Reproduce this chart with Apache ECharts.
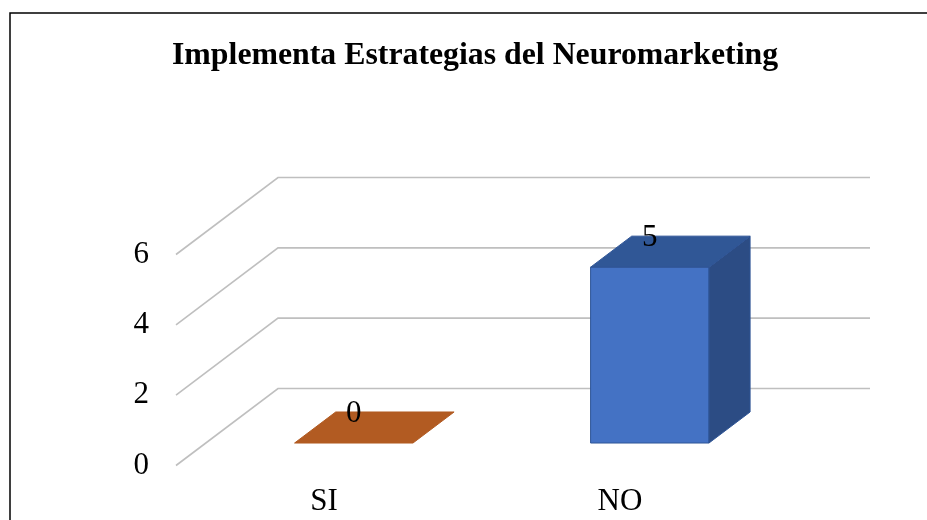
<!DOCTYPE html>
<html>
<head>
<meta charset="utf-8">
<script src="https://cdn.jsdelivr.net/npm/echarts@6/dist/echarts.min.js"></script>
<style>html,body{margin:0;padding:0;background:#fff;}#c{width:927px;height:520px;}</style>
</head>
<body>
<div id="c"></div>
<script>
const titleText = 'Implementa Estrategias del Neuromarketing';
const categories = ['SI', 'NO'];
const values = [0, 5];
const yTicks = [0, 2, 4, 6];

const FONT = '"Liberation Serif", "Times New Roman", serif';
const DX = 102, DY = -77;      // oblique depth of the floor/walls
const F1 = 0.292, F2 = 0.695;  // bar front and back depth fractions
const faceColors = [
  { front: '#ED7D31', top: '#B25B22', side: '#A4521D', stroke: '#B25B22' },
  { front: '#4472C4', top: '#305796', side: '#2C4C84', stroke: '#2F5597' }
];

const chart = echarts.init(document.getElementById('c'));
chart.setOption({
  backgroundColor: '#fff',
  animation: false,
  title: {
    text: titleText,
    left: 172, top: 40, padding: 0,
    textStyle: { fontFamily: FONT, fontWeight: 'bold', fontSize: 31.8, color: '#000' }
  },
  graphic: [{
    type: 'rect', shape: { x: 10, y: 13, width: 1000, height: 1000 },
    style: { fill: 'none', stroke: '#000', lineWidth: 1.5 }, silent: true
  }],
  grid: { left: 176, right: 159, top: 254.5, bottom: 54.5 },
  xAxis: {
    type: 'category', data: categories,
    axisLine: { show: false }, axisTick: { show: false },
    axisLabel: { fontFamily: FONT, fontSize: 31, color: '#000', margin: 21 }
  },
  yAxis: {
    type: 'value', min: 0, max: 6, interval: 2,
    axisLine: { show: false }, axisTick: { show: false }, splitLine: { show: false },
    axisLabel: { fontFamily: FONT, fontSize: 31, color: '#000', margin: 27 }
  },
  series: [
    {
      type: 'custom', z: 1, silent: true,
      data: yTicks.map(v => [0, v]),
      encode: { x: 0, y: 1 },
      renderItem: function (params, api) {
        const p = api.coord([0, api.value(1)]);
        const cs = params.coordSys;
        return {
          type: 'polyline',
          shape: { points: [[cs.x, p[1]], [cs.x + DX, p[1] + DY], [cs.x + cs.width + DX, p[1] + DY]] },
          style: { stroke: '#BFBFBF', lineWidth: 1.6, fill: null }
        };
      }
    },
    {
      type: 'custom', z: 2, silent: true,
      data: categories.map((c, i) => [i, values[i]]),
      encode: { x: 0, y: 1 },
      renderItem: function (params, api) {
        const i = api.value(0), v = api.value(1);
        const top = api.coord([i, v]);
        const base = api.coord([i, 0]);
        const band = api.size([1, 0])[0];
        const w = band * 0.4;
        const x0 = top[0] - w / 2 + DX * F1, x1 = x0 + w;
        const yT = top[1] + DY * F1, yB = base[1] + DY * F1;
        const bx = DX * (F2 - F1), by = DY * (F2 - F1);
        const c = faceColors[i];
        const children = [];
        if (yB - yT > 0.5) {
          children.push({ type: 'rect', shape: { x: x0, y: yT, width: w, height: yB - yT },
            style: { fill: c.front, stroke: c.stroke, lineWidth: 1 } });
          children.push({ type: 'polygon', shape: { points: [[x1, yT], [x1 + bx, yT + by], [x1 + bx, yB + by], [x1, yB]] },
            style: { fill: c.side, stroke: c.stroke, lineWidth: 1 } });
        }
        children.push({ type: 'polygon', shape: { points: [[x0, yT], [x1, yT], [x1 + bx, yT + by], [x0 + bx, yT + by]] },
          style: { fill: c.top, stroke: c.stroke, lineWidth: 1 } });
        children.push({ type: 'text', z2: 10,
          style: { x: (x0 + x1) / 2, y: yT + by + 2, text: String(v), fill: '#000',
            font: '31px ' + FONT, align: 'center', verticalAlign: 'middle' } });
        return { type: 'group', children: children };
      }
    }
  ]
});
</script>
</body>
</html>
